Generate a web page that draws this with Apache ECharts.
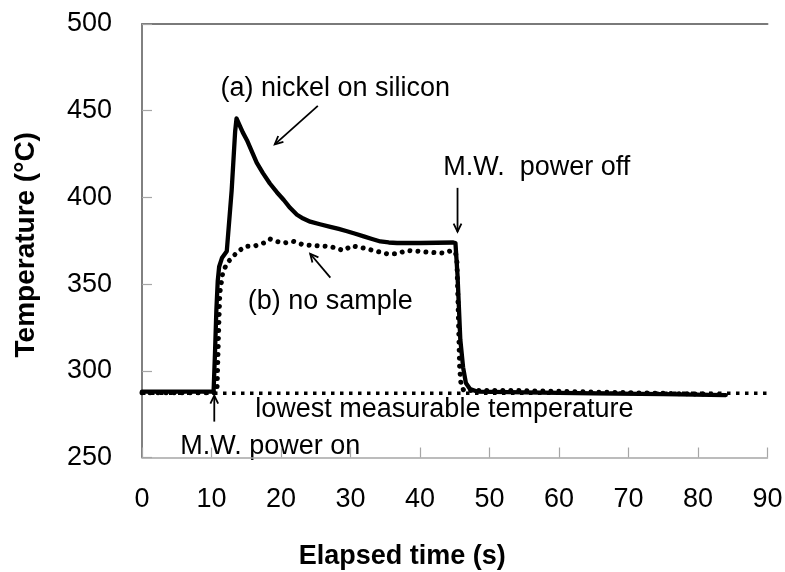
<!DOCTYPE html>
<html>
<head>
<meta charset="utf-8">
<script src="https://cdn.jsdelivr.net/npm/echarts@6/dist/echarts.min.js"></script>
<style>
  html, body { margin: 0; padding: 0; background: #fff; }
  #chart { width: 785px; height: 572px; }
</style>
</head>
<body>
<div id="chart"></div>
<script>
// (a) nickel on silicon: [elapsed time (s), temperature (°C)]
const nickelOnSilicon = [
  [0, 288], [5, 288], [10, 288], [10.3, 288], [10.5, 310], [10.7, 335], [10.9, 352],
  [11.1, 360], [11.5, 365], [12.2, 369], [12.9, 404], [13.4, 438], [13.6, 445.5],
  [14.0, 442], [14.5, 437.5], [15.1, 433], [15.8, 426.5], [16.5, 420], [17.4, 414],
  [18.4, 408], [19.4, 403], [20.4, 398.5], [21.3, 394], [22.3, 390], [23.2, 387.8],
  [24.2, 386], [25.6, 384.5], [27.1, 383], [28.3, 381.8], [29.5, 380.5], [30.7, 379],
  [31.9, 377.5], [33.1, 376], [34.3, 374.6], [35.5, 374], [36.7, 373.7],
  [40, 373.7], [44.8, 374], [45.1, 373.7], [45.4, 355], [45.8, 318], [46.2, 302],
  [46.6, 293], [47.2, 289.5], [48.2, 288], [55, 287.5], [65, 287], [75, 286.5], [84, 286]
];

// (b) no sample
const noSample = [
  [0, 287.3], [5, 287.3], [10.6, 287.3], [10.8, 290], [11.0, 320], [11.2, 345],
  [11.6, 356], [12.2, 362], [13.6, 368], [14.8, 371.7], [16.3, 372.1], [17.5, 373.7],
  [18.4, 376], [19.4, 374.6], [20.4, 373.7], [21.8, 374.6], [23.2, 372.7], [25.2, 372.1],
  [27.1, 371.7], [29.0, 369.4], [30.2, 372.1], [31.9, 370.8], [33.8, 368.9], [35.2, 367.5],
  [36.7, 367.5], [38.1, 369.4], [40.0, 368.9], [41.5, 368.3], [43.4, 367.9], [44.6, 369.4],
  [45.1, 367.9], [45.3, 365], [45.5, 335], [45.7, 302], [45.9, 292], [46.3, 288.6],
  [54, 288.6], [84, 286.3]
];

// lowest measurable temperature of the pyrometer
const lowestMeasurable = 287;
const timeRange = [0, 90];

// axis ticks
const xTicks = { min: 0, max: 90, interval: 10 };
const yTicks = { min: 250, max: 500, interval: 50 };

// annotation texts, anchored in data coordinates
const noteTexts = ['(a) nickel on silicon', 'M.W.  power off', '(b) no sample', 'lowest measurable temperature', 'M.W. power on'];
const noteAnchors = [[27.8, 462.5], [56.8, 417], [27.1, 340], [16.3, 277.6], [5.5, 256.3]];
const noteAligns = ['center', 'center', 'center', 'left', 'left'];

// arrows: [tail, head] in data coordinates
const arrows = [
  [[25.3, 452.8], [19.1, 430.6]],
  [[45.4, 405.5], [45.4, 380.2]],
  [[27.1, 353.7], [24.2, 367.5]],
  [[10.4, 270.7], [10.4, 285.7]]
];

const FONT = 'Liberation Sans, Arial, sans-serif';
const chart = echarts.init(document.getElementById('chart'), null, { renderer: 'canvas' });

chart.setOption({
  animation: false,
  backgroundColor: '#ffffff',
  grid: { left: 142, right: 17.5, top: 24, bottom: 114.5, outerBoundsMode: 'none' },
  xAxis: [{
    type: 'value', min: xTicks.min, max: xTicks.max, interval: xTicks.interval,
    name: 'Elapsed time (s)', nameLocation: 'middle', nameGap: 86,
    nameTextStyle: { fontFamily: FONT, fontSize: 27, fontWeight: 'bold', color: '#000', padding: [0, 105, 0, 0] },
    axisLine: { lineStyle: { color: '#a6a6a6', width: 1.5 } },
    axisTick: { inside: true, length: 10, lineStyle: { color: '#a6a6a6', width: 1.2 } },
    axisLabel: { margin: 29, fontFamily: FONT, fontSize: 27, color: '#000' },
    splitLine: { show: false }
  }, {
    type: 'value', position: 'top', min: xTicks.min, max: xTicks.max,
    axisLine: { show: true, lineStyle: { color: '#7a7a7a', width: 2 } },
    axisTick: { show: false }, axisLabel: { show: false }, splitLine: { show: false }
  }],
  yAxis: [{
    type: 'value', min: yTicks.min, max: yTicks.max, interval: yTicks.interval,
    name: 'Temperature (°C)', nameLocation: 'middle', nameGap: 102,
    nameTextStyle: { fontFamily: FONT, fontSize: 28, fontWeight: 'bold', color: '#000', padding: [0, 8, 0, 0] },
    axisLine: { show: true, lineStyle: { color: '#a6a6a6', width: 1.5 } },
    axisTick: { show: true, inside: true, length: 10, lineStyle: { color: '#a6a6a6', width: 1.2 } },
    axisLabel: { margin: 30, fontFamily: FONT, fontSize: 27, color: '#000' },
    splitLine: { show: false }
  }, {
    type: 'value', position: 'right', min: yTicks.min, max: yTicks.max,
    axisLine: { show: true, lineStyle: { color: '#6e6e6e', width: 1.5 } },
    axisTick: { show: false }, axisLabel: { show: false }, splitLine: { show: false }
  }],
  series: [
    {
      name: 'lowest measurable temperature', type: 'line', showSymbol: false, silent: true,
      data: timeRange.map(t => [t, lowestMeasurable]),
      lineStyle: { color: '#000', width: 3.5, type: [3.5, 5.5], cap: 'butt' }, z: 2
    },
    {
      name: '(a) nickel on silicon', type: 'line', showSymbol: false, silent: true,
      data: nickelOnSilicon,
      lineStyle: { color: '#000', width: 4.3, join: 'round', cap: 'round' }, z: 3
    },
    {
      name: '(b) no sample', type: 'line', showSymbol: false, silent: true,
      data: noSample,
      lineStyle: { color: '#000', width: 5, type: [0.01, 8], cap: 'round' }, z: 4
    }
  ]
});

// annotations: positions converted from data coordinates by the grid's scales
const px = p => chart.convertToPixel({ gridIndex: 0 }, p);
const graphics = [];
noteTexts.forEach((txt, i) => {
  const [x, y] = px(noteAnchors[i]);
  graphics.push({
    type: 'text', x: x, y: y, silent: true,
    style: { text: txt, fill: '#000', font: '27px ' + FONT, align: noteAligns[i], verticalAlign: 'middle' }
  });
});
arrows.forEach(([tail, head]) => {
  const [x0, y0] = px(tail);
  const [x1, y1] = px(head);
  const ang = Math.atan2(y1 - y0, x1 - x0);
  const L = 9, spread = Math.PI / 7;
  const a1 = [x1 - L * Math.cos(ang - spread), y1 - L * Math.sin(ang - spread)];
  const a2 = [x1 - L * Math.cos(ang + spread), y1 - L * Math.sin(ang + spread)];
  graphics.push({
    type: 'polyline', silent: true,
    shape: { points: [[x0, y0], [x1, y1]] },
    style: { stroke: '#000', lineWidth: 1.8, fill: null }
  });
  graphics.push({
    type: 'polyline', silent: true,
    shape: { points: [a1, [x1, y1], a2] },
    style: { stroke: '#000', lineWidth: 1.8, fill: null, lineJoin: 'miter' }
  });
});
chart.setOption({ graphic: graphics });
</script>
</body>
</html>
